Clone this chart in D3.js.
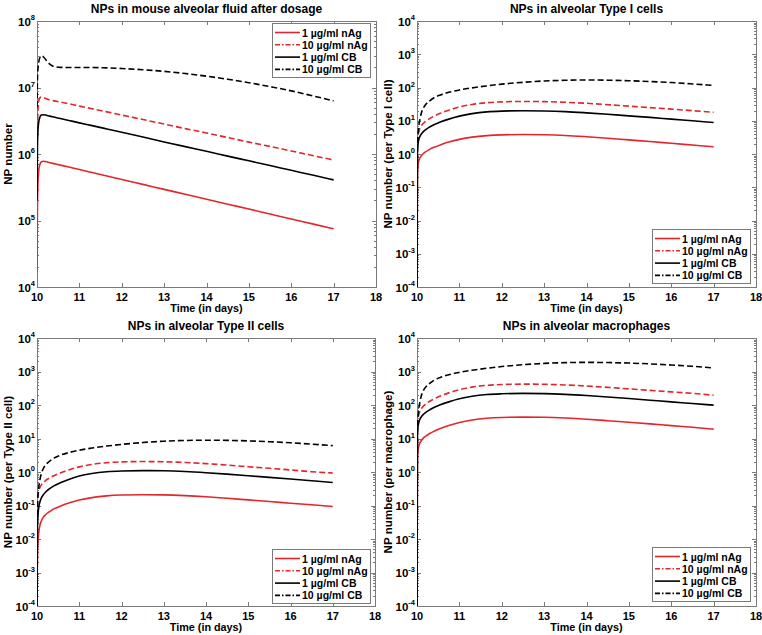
<!DOCTYPE html>
<html><head><meta charset="utf-8">
<script src="https://cdn.jsdelivr.net/npm/d3@7"></script>
<style>
html,body{margin:0;padding:0;background:#fff;}
text{font-family:"Liberation Sans",Arial,sans-serif;font-weight:bold;fill:#000;}
</style></head>
<body><svg id="c" width="762" height="635"></svg>
<script>
// ---- data ----
const times = [10, 10.01, 10.02, 10.04, 10.07, 10.1, 10.15, 10.2, 10.3, 10.4, 10.55, 10.75, 11, 11.3, 11.65, 12, 12.5, 13, 13.5, 14, 14.5, 15, 15.5, 16, 16.5, 17];
const seriesNames = ["1 µg/ml nAg", "10 µg/ml nAg", "1 µg/ml CB", "10 µg/ml CB"];
const xTicks = [10, 11, 12, 13, 14, 15, 16, 17, 18];

// alveolar fluid
const fluid_nAg1 = [1.7e4, 1.5e5, 3.2e5, 5.6e5, 7.0e5, 7.6e5, 7.8e5, 7.7e5, 7.41e5, 7.16e5, 6.81e5, 6.36e5, 5.83e5, 5.26e5, 4.67e5, 4.14e5, 3.49e5, 2.94e5, 2.48e5, 2.09e5, 1.76e5, 1.49e5, 1.25e5, 1.05e5, 8.89e4, 7.5e4];
const fluid_nAg10 = [5e5, 2.5e6, 4.3e6, 6.2e6, 7.0e6, 7.2e6, 7.05e6, 6.85e6, 6.5e6, 6.3e6, 6.05e6, 5.7e6, 5.25e6, 4.79e6, 4.3e6, 3.85e6, 3.3e6, 2.82e6, 2.41e6, 2.07e6, 1.77e6, 1.51e6, 1.3e6, 1.11e6, 9.5e5, 8.1e5];
const fluid_CB1 = [2e5, 1.2e6, 2.1e6, 3.0e6, 3.6e6, 3.85e6, 3.9e6, 3.86e6, 3.71e6, 3.59e6, 3.42e6, 3.2e6, 2.94e6, 2.67e6, 2.38e6, 2.12e6, 1.8e6, 1.52e6, 1.29e6, 1.1e6, 9.3e5, 7.9e5, 6.7e5, 5.68e5, 4.82e5, 4.08e5];
const fluid_CB10 = [5e6, 1.3e7, 1.8e7, 2.4e7, 2.85e7, 3.0e7, 2.9e7, 2.65e7, 2.25e7, 2.07e7, 2.01e7, 2.0e7, 2.0e7, 2.0e7, 1.97e7, 1.93e7, 1.85e7, 1.75e7, 1.62e7, 1.48e7, 1.33e7, 1.18e7, 1.03e7, 8.9e6, 7.5e6, 6.3e6];

// type I cells
const type1_nAg1 = [1e-4, 0.272, 0.43, 0.61, 0.77, 0.88, 1.035, 1.16, 1.38, 1.585, 1.88, 2.28, 2.75, 3.21, 3.57, 3.76, 3.85, 3.79, 3.61, 3.31, 2.99, 2.66, 2.37, 2.1, 1.86, 1.65];
const type1_nAg10 = [1e-4, 1.81, 3.07, 4.57, 5.96, 6.98, 8.4, 9.59, 11.7, 13.7, 16.7, 20.8, 25.8, 30.9, 34.9, 37.0, 38.0, 37.6, 35.9, 33.5, 30.4, 27.5, 24.8, 22.4, 20.1, 18.0];
const type1_CB1 = [1e-4, 1.09, 1.8, 2.64, 3.4, 3.95, 4.72, 5.36, 6.48, 7.54, 9.12, 11.2, 13.8, 16.4, 18.5, 19.5, 20.0, 19.7, 18.8, 17.3, 15.7, 14.0, 12.6, 11.2, 9.97, 8.87];
const type1_CB10 = [1e-4, 1.78, 3.16, 6.3, 11.2, 16.6, 24, 30.2, 39.8, 49, 59.6, 71.6, 84.1, 97.7, 112, 126, 143, 157, 165, 168, 166, 160, 151, 141, 128, 115];

// type II cells
const type2_nAg1 = [1e-4, 0.003, 0.007, 0.015, 0.026, 0.034, 0.045, 0.053, 0.066, 0.0791, 0.0957, 0.118, 0.145, 0.172, 0.194, 0.205, 0.21, 0.207, 0.197, 0.182, 0.164, 0.147, 0.132, 0.117, 0.105, 0.093];
const type2_nAg10 = [1e-4, 0.111, 0.185, 0.27, 0.348, 0.406, 0.484, 0.55, 0.665, 0.774, 0.935, 1.15, 1.42, 1.68, 1.89, 2.0, 2.05, 2.02, 1.93, 1.78, 1.61, 1.44, 1.29, 1.15, 1.02, 0.93];
const type2_CB1 = [1e-4, 0.02, 0.045, 0.085, 0.13, 0.165, 0.21, 0.25, 0.32, 0.385, 0.475, 0.6, 0.759, 0.902, 1.015, 1.072, 1.1, 1.085, 1.034, 0.954, 0.862, 0.772, 0.691, 0.616, 0.549, 0.488];
const type2_CB10 = [1e-4, 0.094, 0.168, 0.334, 0.594, 0.879, 1.27, 1.6, 2.11, 2.59, 3.16, 3.79, 4.46, 5.18, 5.94, 6.67, 7.57, 8.3, 8.73, 8.89, 8.79, 8.49, 8.02, 7.45, 6.79, 6.11];

// macrophages
const macro_nAg1 = [1e-4, 2.36, 3.92, 5.73, 7.38, 8.59, 10.3, 11.6, 14.1, 16.4, 19.8, 24.4, 30.0, 35.6, 40.1, 42.4, 43.5, 42.9, 40.8, 37.7, 34.0, 30.5, 27.3, 24.3, 21.7, 19.0];
const macro_nAg10 = [1e-4, 20.0, 33.9, 50.5, 65.8, 77.1, 92.8, 106, 129, 151, 185, 230, 285, 342, 386, 409, 420, 415, 396, 368, 336, 303, 274, 247, 222, 196];
const macro_CB1 = [1e-4, 12.1, 20.0, 29.2, 37.7, 43.9, 52.4, 59.4, 71.9, 83.7, 101, 124, 153, 182, 205, 216, 222, 219, 208, 192, 174, 156, 139, 124, 111, 99];
const macro_CB10 = [1e-4, 19.8, 35.2, 70.3, 125, 185, 267, 336, 444, 546, 664, 798, 938, 1089, 1250, 1403, 1592, 1746, 1837, 1871, 1849, 1786, 1687, 1567, 1429, 1270];

// ---- layout ----
const svg = d3.select("#c");
const RED = "#e3262b", BLACK = "#000";
const styles = [
  {color: RED, dash: null, legDash: null},
  {color: RED, dash: "6,3", legDash: "5,2,1.5,2"},
  {color: BLACK, dash: null, legDash: null},
  {color: BLACK, dash: "6,3", legDash: "5,2,1.5,2"}
];
const panels = [
  {title: "NPs in mouse alveolar fluid after dosage", ylabel: "NP number", yExp: [4, 8],
   box: {l: 37, r: 376, t: 21, b: 287}, legend: {right: 370, top: 23},
   data: [fluid_nAg1, fluid_nAg10, fluid_CB1, fluid_CB10]},
  {title: "NPs in alveolar Type I cells", ylabel: "NP number (per Type I cell)", yExp: [-4, 4],
   box: {l: 417, r: 756, t: 21, b: 287}, legend: {right: 750, bottom: 283},
   data: [type1_nAg1, type1_nAg10, type1_CB1, type1_CB10]},
  {title: "NPs in alveolar Type II cells", ylabel: "NP number (per Type II cell)", yExp: [-4, 4],
   box: {l: 37, r: 375, t: 338, b: 606}, legend: {right: 370, bottom: 603},
   data: [type2_nAg1, type2_nAg10, type2_CB1, type2_CB10]},
  {title: "NPs in alveolar macrophages", ylabel: "NP number (per macrophage)", yExp: [-4, 4],
   box: {l: 417, r: 756, t: 338, b: 606}, legend: {right: 750, bottom: 601},
   data: [macro_nAg1, macro_nAg10, macro_CB1, macro_CB10]}
];

const AX = "#7a7a7a";
panels.forEach((p, pi) => {
  const b = p.box;
  const x = d3.scaleLinear().domain([10, 18]).range([b.l, b.r]);
  const y = d3.scaleLog().domain([Math.pow(10, p.yExp[0]), Math.pow(10, p.yExp[1])]).range([b.b, b.t]);
  const g = svg.append("g");

  const cid = "clip" + pi;
  svg.append("clipPath").attr("id", cid).append("rect")
    .attr("x", b.l).attr("y", b.t).attr("width", b.r - b.l).attr("height", b.b - b.t);

  // ticks (inside)
  const tg = g.append("g").attr("stroke", AX).attr("stroke-width", 1);
  xTicks.forEach(v => {
    const px = Math.round(x(v)) + 0.5;
    tg.append("line").attr("x1", px).attr("x2", px).attr("y1", b.b).attr("y2", b.b - 4);
    tg.append("line").attr("x1", px).attr("x2", px).attr("y1", b.t).attr("y2", b.t + 4);
  });
  for (let e = p.yExp[0]; e <= p.yExp[1]; e++) {
    const py = Math.round(y(Math.pow(10, e))) + 0.5;
    tg.append("line").attr("x1", b.l).attr("x2", b.l + 4).attr("y1", py).attr("y2", py);
    tg.append("line").attr("x1", b.r).attr("x2", b.r - 4).attr("y1", py).attr("y2", py);
    if (e < p.yExp[1]) {
      for (let m = 2; m <= 9; m++) {
        const my = Math.round(y(m * Math.pow(10, e))) + 0.5;
        tg.append("line").attr("x1", b.l).attr("x2", b.l + 2).attr("y1", my).attr("y2", my);
        tg.append("line").attr("x1", b.r).attr("x2", b.r - 2).attr("y1", my).attr("y2", my);
      }
    }
  }
  g.append("rect").attr("x", b.l + 0.5).attr("y", b.t + 0.5)
    .attr("width", b.r - b.l).attr("height", b.b - b.t)
    .attr("fill", "none").attr("stroke", AX).attr("stroke-width", 1);

  xTicks.forEach(v => {
    g.append("text").attr("x", x(v)).attr("y", b.b + 14).attr("text-anchor", "middle")
      .attr("font-size", 11).text(v);
  });
  for (let e = p.yExp[0]; e <= p.yExp[1]; e++) {
    const t = g.append("text").attr("x", b.l - 2).attr("y", y(Math.pow(10, e)) + 4.5)
      .attr("text-anchor", "end").attr("font-size", 11.5);
    t.append("tspan").text("10");
    t.append("tspan").attr("dy", -5.5).attr("font-size", 7.5).text(e);
  }
  g.append("text").attr("x", (b.l + b.r) / 2).attr("y", b.t - 8).attr("text-anchor", "middle")
    .attr("font-size", 12).text(p.title);
  g.append("text").attr("x", (b.l + b.r) / 2).attr("y", b.b + 25).attr("text-anchor", "middle")
    .attr("font-size", 10.8).text("Time (in days)");
  g.append("text").attr("transform", `translate(${b.l - 25},${(b.t + b.b) / 2}) rotate(-90)`)
    .attr("text-anchor", "middle").attr("font-size", 11.6).text(p.ylabel);

  const line = d3.line().x((d, i) => x(times[i])).y(d => y(d)).curve(d3.curveMonotoneX);
  const lg = g.append("g").attr("clip-path", `url(#${cid})`);
  p.data.forEach((arr, si) => {
    const st = styles[si];
    lg.append("path").attr("d", line(arr)).attr("fill", "none")
      .attr("stroke", st.color).attr("stroke-width", 1.6)
      .attr("stroke-linejoin", "round")
      .attr("stroke-dasharray", st.dash);
  });

  // legend
  const LW = 98, LH = 54;
  const lx = p.legend.right - LW;
  const ly = p.legend.top !== undefined ? p.legend.top : p.legend.bottom - LH;
  const leg = g.append("g");
  leg.append("rect").attr("x", lx + 0.5).attr("y", ly + 0.5).attr("width", LW).attr("height", LH)
    .attr("fill", "#fff").attr("stroke", AX).attr("stroke-width", 1);
  seriesNames.forEach((nm, si) => {
    const ry = ly + 9.5 + si * 12.3;
    const st = styles[si];
    leg.append("line").attr("x1", lx + 3).attr("x2", lx + 28).attr("y1", ry).attr("y2", ry)
      .attr("stroke", st.color).attr("stroke-width", 1.6).attr("stroke-dasharray", st.legDash);
    leg.append("text").attr("x", lx + 30).attr("y", ry + 4).attr("font-size", 10.5).text(nm);
  });
});
</script>
</body></html>
